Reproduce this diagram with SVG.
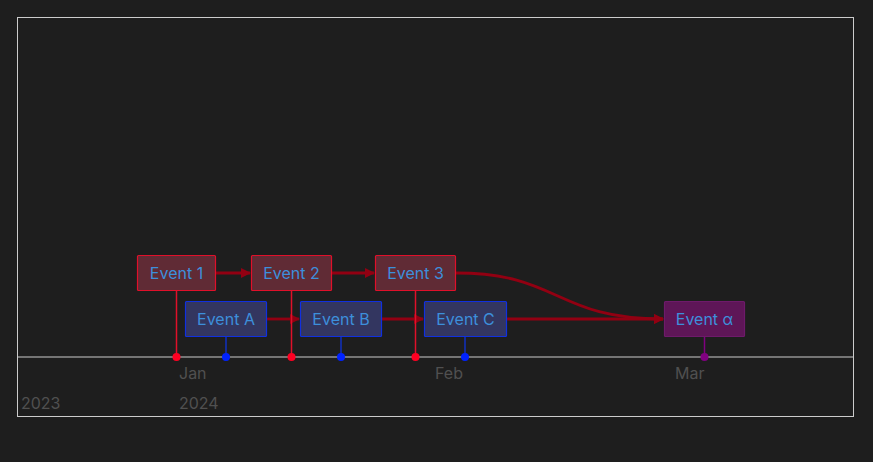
<svg xmlns="http://www.w3.org/2000/svg" width="873" height="462" viewBox="0 0 873 462">
<defs>
<style>
text{font-family:Inter,"Noto Sans",sans-serif;font-size:16px}
.lbl{fill:#3d8fdb;text-anchor:middle;dominant-baseline:central}
.ax{fill:#505050}
.r rect{fill:#602b35;stroke:#e0102a;stroke-width:1.2}
.b rect{fill:#333660;stroke:#1030e0;stroke-width:1.2}
.p rect{fill:#5e1657;stroke:#6e1a6a;stroke-width:1.2}
.r line{stroke:#e0102a;stroke-width:1.5}
.b line{stroke:#1030c0;stroke-width:1.5}
.p line{stroke:#800080;stroke-width:1.5}
.r circle{fill:#ff0022}
.b circle{fill:#0022ff}
.p circle{fill:#800080}
.c{stroke:#920012;stroke-width:2.8;fill:none;marker-end:url(#ah)}
</style>
<marker id="ah" viewBox="0 0 10 10" refX="9" refY="5" markerWidth="3.6" markerHeight="3.6" orient="auto" markerUnits="strokeWidth">
<path d="M0,0L10,5L0,10z" fill="#920012"/>
</marker>
</defs>
<rect width="873" height="462" fill="#1e1e1e"/>
<rect x="17.5" y="17.5" width="836" height="399" fill="none" stroke="#cccccc" stroke-width="1"/>
<line x1="17" y1="357" x2="853" y2="357" stroke="#cccccc" stroke-width="1.2"/>
<g id="axis-labels">
<text class="ax" x="179" y="379">Jan</text>
<text class="ax" x="435" y="379">Feb</text>
<text class="ax" x="675" y="379">Mar</text>
<text class="ax" x="21" y="409">2023</text>
<text class="ax" x="179" y="409">2024</text>
</g>
<g id="connectors">
<path class="c" d="M216,273H250"/>
<path class="c" d="M332,273H374"/>
<path class="c" d="M267,319H299"/>
<path class="c" d="M382,319H423"/>
<path class="c" d="M507,319H663"/>
<path class="c" d="M456,273C560,273 555,319 663,319"/>
</g>
<g id="event1" class="r"><line x1="176.5" y1="291" x2="176.5" y2="357"/><circle cx="176.5" cy="357" r="4"/><rect x="137.5" y="255.5" width="78" height="35" rx="1"/><text class="lbl" x="176.5" y="273">Event 1</text></g>
<g id="event2" class="r"><line x1="291.5" y1="291" x2="291.5" y2="357"/><circle cx="291.5" cy="357" r="4"/><rect x="251.5" y="255.5" width="80" height="35" rx="1"/><text class="lbl" x="291.5" y="273">Event 2</text></g>
<g id="event3" class="r"><line x1="415.5" y1="291" x2="415.5" y2="357"/><circle cx="415.5" cy="357" r="4"/><rect x="375.5" y="255.5" width="80" height="35" rx="1"/><text class="lbl" x="415.5" y="273">Event 3</text></g>
<g id="eventA" class="b"><line x1="226" y1="337" x2="226" y2="357"/><circle cx="226" cy="357" r="4"/><rect x="185.5" y="301.5" width="81" height="35" rx="1"/><text class="lbl" x="226" y="319">Event A</text></g>
<g id="eventB" class="b"><line x1="341" y1="337" x2="341" y2="357"/><circle cx="341" cy="357" r="4"/><rect x="300.5" y="301.5" width="81" height="35" rx="1"/><text class="lbl" x="341" y="319">Event B</text></g>
<g id="eventC" class="b"><line x1="465" y1="337" x2="465" y2="357"/><circle cx="465" cy="357" r="4"/><rect x="424.5" y="301.5" width="82" height="35" rx="1"/><text class="lbl" x="465.5" y="319">Event C</text></g>
<g id="eventAlpha" class="p"><line x1="704.5" y1="337" x2="704.5" y2="357"/><circle cx="704.5" cy="357" r="4"/><rect x="664.5" y="301.5" width="80" height="35" rx="1"/><text class="lbl" x="704.5" y="319">Event α</text></g>
</svg>
